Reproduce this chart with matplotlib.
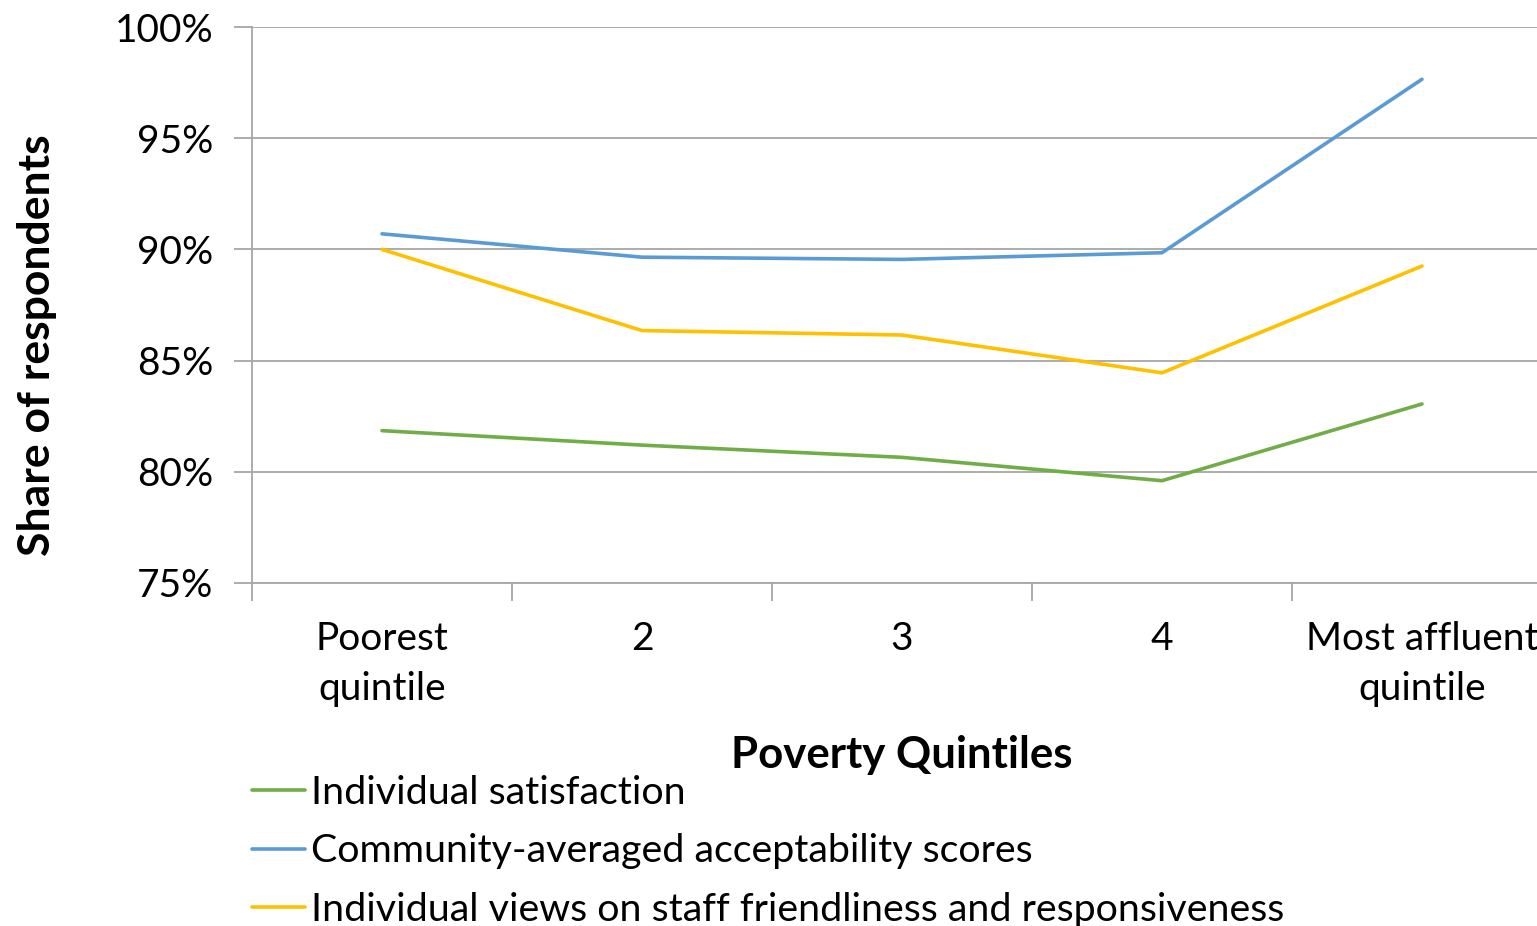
import matplotlib
matplotlib.use("Agg")
import matplotlib.pyplot as plt
from matplotlib.ticker import FixedLocator, FuncFormatter

# Data
quintiles = ["Poorest\nquintile", "2", "3", "4", "Most affluent\nquintile"]
individual_satisfaction = [81.85, 81.2, 80.65, 79.6, 83.05]
community_scores = [90.7, 89.65, 89.55, 89.85, 97.65]
staff_friendliness = [90.0, 86.35, 86.15, 84.45, 89.25]
series_labels = [
    "Individual satisfaction",
    "Community-averaged acceptability scores",
    "Individual views on staff friendliness and responsiveness",
]
series_colors = ["#70AD47", "#5B9BD5", "#FFC000"]

plt.rcParams["font.family"] = ["Lato", "DejaVu Sans"]

W, H = 1537, 926
fig = plt.figure(figsize=(W / 100, H / 100), dpi=100)
# Plot area runs slightly past the right edge, as in the reference
ax = fig.add_axes([252 / W, 1 - 583 / H, 1300 / W, 556 / H])

x = list(range(len(quintiles)))
for values, label, color in zip(
    [individual_satisfaction, community_scores, staff_friendliness],
    series_labels,
    series_colors,
):
    ax.plot(x, values, color=color, lw=2.6, label=label, solid_capstyle="round")

ax.set_xlim(-0.5, len(quintiles) - 0.5)
ax.set_ylim(75, 100)

grid_color = "#A6A6A6"
ax.set_yticks([75, 80, 85, 90, 95, 100])
ax.yaxis.set_major_formatter(FuncFormatter(lambda v, _: f"{v:.0f}%"))
ax.grid(axis="y", color=grid_color, lw=1.3)
ax.set_axisbelow(True)

# Category boundaries get tick marks, category centres get labels
ax.xaxis.set_major_locator(FixedLocator([i - 0.5 for i in range(len(quintiles) + 1)]))
ax.xaxis.set_major_formatter(FuncFormatter(lambda v, _: ""))
ax.xaxis.set_minor_locator(FixedLocator(x))
ax.set_xticklabels(quintiles, minor=True, fontsize=28, linespacing=1.5)
ax.tick_params(axis="x", which="minor", length=0, pad=27)
ax.tick_params(axis="x", which="major", length=13, width=1.3, color=grid_color)
ax.tick_params(axis="y", length=13, width=1.3, color=grid_color, labelsize=28, pad=15)

for side in ["top", "right"]:
    ax.spines[side].set_visible(False)
for side in ["left", "bottom"]:
    ax.spines[side].set_color(grid_color)
    ax.spines[side].set_linewidth(1.3)

fig.text(902 / W, 1 - 755 / H, "Poverty Quintiles", fontsize=31.5, fontweight="bold",
         ha="center", va="center")
fig.text(37 / W, 1 - 345 / H, "Share of respondents", fontsize=32, fontweight="bold",
         rotation=90, ha="center", va="center")

handles, labels = ax.get_legend_handles_labels()
fig.legend(
    handles,
    labels,
    loc="upper left",
    bbox_to_anchor=(252 / W, 1 - 775 / H),
    frameon=False,
    fontsize=28.4,
    handlelength=1.34,
    handletextpad=0.15,
    labelspacing=0.57,
    borderpad=0,
    borderaxespad=0,
)

fig.savefig("out.png", dpi=100)
